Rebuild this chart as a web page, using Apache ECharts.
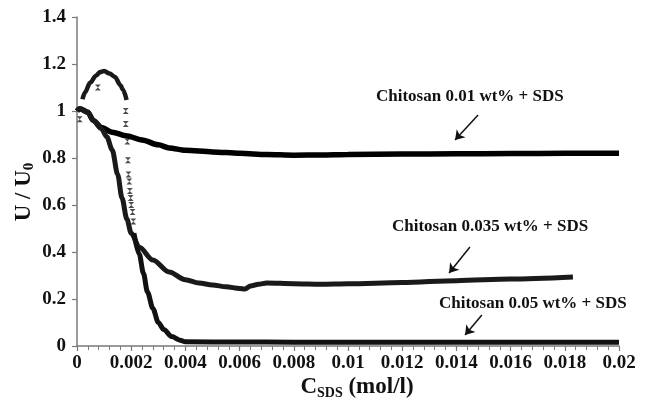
<!DOCTYPE html>
<html><head><meta charset="utf-8">
<script src="https://cdn.jsdelivr.net/npm/echarts@6/dist/echarts.min.js"></script>
<style>html,body{margin:0;padding:0;background:#fff}#c{width:649px;height:403px}</style>
</head><body><div id="c"></div>
<script>
// ---- data ----
const xTickValues = [0, 0.002, 0.004, 0.006, 0.008, 0.01, 0.012, 0.014, 0.016, 0.018, 0.02];
const yTickValues = [0, 0.2, 0.4, 0.6, 0.8, 1, 1.2, 1.4];

const chit001 = [
  [0,1.0],[0.0001,1.01],[0.0004,0.995],[0.0006,0.96],[0.0009,0.93],[0.0013,0.91],
  [0.0018,0.895],[0.0024,0.877],[0.003,0.856],[0.0034,0.843],[0.004,0.833],[0.005,0.826],
  [0.006,0.82],[0.007,0.815],[0.008,0.812],[0.009,0.813],[0.01,0.815],[0.012,0.817],
  [0.014,0.818],[0.016,0.819],[0.018,0.82],[0.02,0.82]
];
const chit035 = [
  [0,1.0],[0.0001,1.01],[0.0004,0.995],[0.0006,0.96],[0.0009,0.925],[0.0011,0.89],
  [0.0013,0.834],[0.0015,0.73],[0.00166,0.63],[0.00184,0.54],[0.002,0.48],[0.0023,0.42],
  [0.0028,0.366],[0.0034,0.315],[0.004,0.282],[0.0045,0.268],[0.005,0.26],[0.0055,0.252],
  [0.006,0.245],[0.0062,0.243],[0.0064,0.255],[0.0067,0.263],[0.007,0.268],[0.008,0.265],
  [0.009,0.263],[0.01,0.265],[0.012,0.27],[0.014,0.278],[0.016,0.285],[0.0183,0.294]
];
const chit05Hump = [
  [0.0002,1.05],[0.0003,1.08],[0.00048,1.12],[0.0007,1.15],[0.00085,1.166],[0.001,1.17],
  [0.0012,1.16],[0.0014,1.145],[0.0016,1.11],[0.0017,1.09],[0.00183,1.047]
];
const chit05Sparse = [
  [0.0001,0.965],[0.00077,1.10],[0.0018,1.0],[0.0018,0.945],[0.00186,0.87],[0.00188,0.79],
  [0.0019,0.73],[0.00193,0.70],[0.00195,0.66],[0.00198,0.63],[0.002,0.60],[0.00205,0.57],
  [0.00208,0.53]
];
const chit05Tail = [
  [0.0021,0.48],[0.0023,0.39],[0.00245,0.31],[0.0026,0.23],[0.0028,0.16],[0.003,0.1],
  [0.0032,0.07],[0.0035,0.04],[0.0038,0.025],[0.004,0.018],[0.006,0.017],[0.008,0.016],
  [0.01,0.016],[0.014,0.016],[0.02,0.016]
];
const annotTexts = ['Chitosan 0.01 wt% + SDS', 'Chitosan 0.035 wt% + SDS', 'Chitosan 0.05 wt% + SDS'];
const arrowTails = [[0.0148,0.983],[0.0145,0.421],[0.01494,0.132]];
const arrowTips  = [[0.01395,0.877],[0.01373,0.311],[0.01432,0.047]];

// ---- chart ----
const FONT = '"Liberation Serif", "Times New Roman", serif';
const chart = echarts.init(document.getElementById('c'), null, {renderer: 'canvas'});
const axisGray = '#7a7a7a';
const fmt = v => String(+(+v).toFixed(4));

const lineSeries = (data, width, color) => ({
  type: 'line', data, showSymbol: false, smooth: 0.3, smoothMonotone: 'x',
  lineStyle: {color, width}, silent: true, animation: false, z: 3
});

const option = {
  animation: false,
  backgroundColor: '#fff',
  grid: {left: 77, right: 30, top: 17, bottom: 57, containLabel: false},
  xAxis: {
    type: 'value', min: 0, max: 0.02, interval: 0.002,
    axisLine: {show: true, onZero: false, lineStyle: {color: axisGray, width: 1.5}},
    axisTick: {show: true, length: 5, lineStyle: {color: axisGray, width: 1.2}},
    minorTick: {show: true, splitNumber: 5, length: 4, lineStyle: {color: axisGray, width: 1}},
    splitLine: {show: false},
    axisLabel: {formatter: fmt, color: '#111', fontFamily: FONT, fontWeight: 'bold', fontSize: 19, margin: 8}
  },
  yAxis: {
    type: 'value', min: 0, max: 1.4, interval: 0.2,
    axisLine: {show: true, onZero: false, lineStyle: {color: axisGray, width: 1.5}},
    axisTick: {show: true, length: 5, lineStyle: {color: axisGray, width: 1.2}},
    splitLine: {show: false},
    axisLabel: {formatter: fmt, color: '#111', fontFamily: FONT, fontWeight: 'bold', fontSize: 19, margin: 11}
  },
  series: [
    lineSeries(chit001, 5.5, '#000'),
    lineSeries(chit035, 5, '#1a1a1a'),
    lineSeries(chit05Hump, 4.5, '#1a1a1a'),
    lineSeries(chit05Tail, 5, '#111'),
    {
      type: 'scatter', data: chit05Sparse, silent: true, z: 4,
      symbol: 'path://M0,0L10,0L5,5L10,10L0,10L5,5Z', symbolSize: [6, 6],
      itemStyle: {color: '#222'}
    },
    {
      type: 'line', data: [], silent: true,
      markLine: {
        silent: true, animation: false,
        symbol: ['none', 'arrow'], symbolSize: 9,
        label: {show: false},
        lineStyle: {color: '#111', width: 1.5, type: 'solid'},
        data: arrowTails.map((t, i) => [{coord: t}, {coord: arrowTips[i]}])
      }
    }
  ],
  graphic: [
    {type: 'text', x: 376, y: 97, style: {text: annotTexts[0], font: 'bold 17px ' + FONT, fill: '#111', align: 'left', verticalAlign: 'middle', textAlign: 'left', textVerticalAlign: 'middle'}},
    {type: 'text', x: 392, y: 227, style: {text: annotTexts[1], font: 'bold 17px ' + FONT, fill: '#111', align: 'left', verticalAlign: 'middle', textAlign: 'left', textVerticalAlign: 'middle'}},
    {type: 'text', x: 439, y: 304, style: {text: annotTexts[2], font: 'bold 17px ' + FONT, fill: '#111', align: 'left', verticalAlign: 'middle', textAlign: 'left', textVerticalAlign: 'middle'}},
    {type: 'text', x: 357, y: 387, style: {
      text: '{a|C}{b|SDS}{a| (mol/l)}', align: 'center', verticalAlign: 'middle', textAlign: 'center', textVerticalAlign: 'middle',
      rich: {
        a: {fontFamily: FONT, fontWeight: 'bold', fontSize: 23, lineHeight: 26, fill: '#111', color: '#111', verticalAlign: 'middle'},
        b: {fontFamily: FONT, fontWeight: 'bold', fontSize: 14, fill: '#111', color: '#111', verticalAlign: 'bottom'}
      }}},
    {type: 'text', x: 24, y: 192, rotation: Math.PI / 2, style: {
      text: '{a|U / U}{b|0}', align: 'center', verticalAlign: 'middle', textAlign: 'center', textVerticalAlign: 'middle',
      rich: {
        a: {fontFamily: FONT, fontWeight: 'bold', fontSize: 23, lineHeight: 26, fill: '#111', color: '#111', verticalAlign: 'middle'},
        b: {fontFamily: FONT, fontWeight: 'bold', fontSize: 15, fill: '#111', color: '#111', verticalAlign: 'bottom'}
      }}}
  ]
};
chart.setOption(option);
</script>
</body></html>
